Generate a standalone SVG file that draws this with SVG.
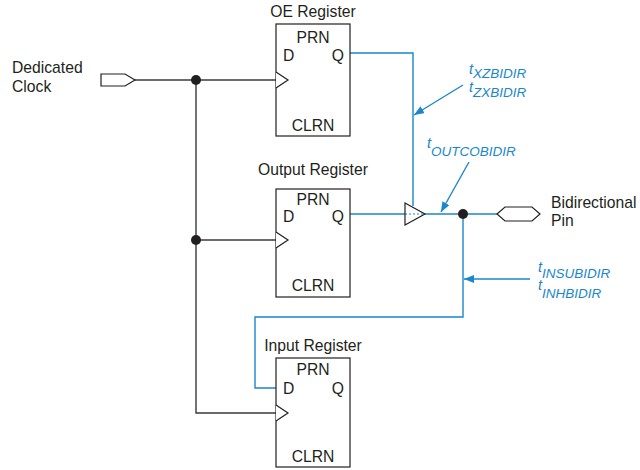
<svg xmlns="http://www.w3.org/2000/svg" width="640" height="470" viewBox="0 0 640 470">
<defs>
<style>
.t{font-family:"Liberation Sans",Arial,sans-serif;font-size:15.7px;fill:#231f20}
.m{text-anchor:middle}
.e{text-anchor:end}
.b{font-family:"Liberation Sans",Arial,sans-serif;font-style:italic;fill:#1a87cc}
.bt{font-size:14.5px}
.bs{font-size:13.5px}
.box{fill:#fff;stroke:#231f20;stroke-width:1.2}
.k{fill:none;stroke:#3a3a3a;stroke-width:1.4}
.w{fill:none;stroke:#1a87cc;stroke-width:1.4}
.dot{fill:#231f20}
</style>
<marker id="ah" viewBox="0 0 10 8" refX="10" refY="4" markerWidth="10" markerHeight="8" markerUnits="userSpaceOnUse" orient="auto">
<path d="M0,0 L10,4 L0,8 z" fill="#1a87cc"/>
</marker>
</defs>
<rect width="640" height="470" fill="#fff"/>

<g id="connectors">
<polyline class="k" points="135,80 276,80"/>
<polyline class="k" points="196,80 196,413 276,413"/>
<polyline class="k" points="196,240 276,240"/>
<polyline class="w" points="350,53 413,53 413,206"/>
<polyline class="w" points="350,214 405,214"/>
<polyline class="w" points="425,214 497,214"/>
<polyline class="w" points="463,214 463,317 255,317 255,388 276,388"/>
<line x1="405" y1="214" x2="425" y2="214" stroke="#1a87cc" stroke-width="1" stroke-dasharray="2,2"/>
<line class="w" x1="463" y1="85" x2="414" y2="115" marker-end="url(#ah)" stroke-width="1.2"/>
<line class="w" x1="469" y1="162" x2="441" y2="212" marker-end="url(#ah)" stroke-width="1.2"/>
<line class="w" x1="530" y1="279" x2="464" y2="279" marker-end="url(#ah)" stroke-width="1.2"/>
<circle class="dot" cx="196" cy="80" r="5"/>
<circle class="dot" cx="196" cy="240" r="5"/>
<circle class="dot" cx="463" cy="214" r="5"/>
</g>

<g id="clock-pin">
<polygon points="101,74 125,74 135,80 125,86 101,86" fill="#fff" stroke="#231f20" stroke-width="1.2"/>
<text class="t" x="12" y="73">Dedicated</text>
<text class="t" x="12" y="92">Clock</text>
</g>

<g id="oe-register">
<text class="t m" x="313" y="17">OE Register</text>
<rect class="box" x="276" y="24" width="74" height="112"/>
<polyline class="box" points="276,72 288,80 276,88"/>
<text class="t m" x="313" y="43">PRN</text>
<text class="t" x="283" y="61">D</text>
<text class="t e" x="344" y="61">Q</text>
<text class="t m" x="313" y="131">CLRN</text>
</g>

<g id="output-register">
<text class="t m" x="313" y="175">Output Register</text>
<rect class="box" x="276" y="189" width="74" height="108"/>
<polyline class="box" points="276,232 288,240 276,248"/>
<text class="t m" x="313" y="205">PRN</text>
<text class="t" x="283" y="222">D</text>
<text class="t e" x="344" y="222">Q</text>
<text class="t m" x="313" y="291">CLRN</text>
</g>

<g id="input-register">
<text class="t m" x="313" y="351">Input Register</text>
<rect class="box" x="276" y="358" width="74" height="109"/>
<polyline class="box" points="276,405 288,413 276,421"/>
<text class="t m" x="313" y="375">PRN</text>
<text class="t" x="283" y="394">D</text>
<text class="t e" x="344" y="394">Q</text>
<text class="t m" x="313" y="462">CLRN</text>
</g>

<g id="buffer">
<polygon points="405,203 425,214 405,225" fill="none" stroke="#231f20" stroke-width="1.2"/>
</g>

<g id="bidir-pin">
<polygon points="497,214 505,207 532,207 540,214 532,221 505,221" fill="#fff" stroke="#231f20" stroke-width="1.2"/>
<text class="t" x="551" y="208">Bidirectional</text>
<text class="t" x="551" y="226">Pin</text>
</g>

<g id="labels">
<text class="b" x="469" y="74"><tspan class="bt">t</tspan><tspan class="bs" dy="4">XZBIDIR</tspan></text>
<text class="b" x="469" y="92"><tspan class="bt">t</tspan><tspan class="bs" dy="5">ZXBIDIR</tspan></text>
<text class="b" x="427" y="148"><tspan class="bt">t</tspan><tspan class="bs" dy="8">OUTCOBIDIR</tspan></text>
<text class="b" x="538" y="272"><tspan class="bt">t</tspan><tspan class="bs" dy="6">INSUBIDIR</tspan></text>
<text class="b" x="538" y="290"><tspan class="bt">t</tspan><tspan class="bs" dy="8">INHBIDIR</tspan></text>
</g>
</svg>
